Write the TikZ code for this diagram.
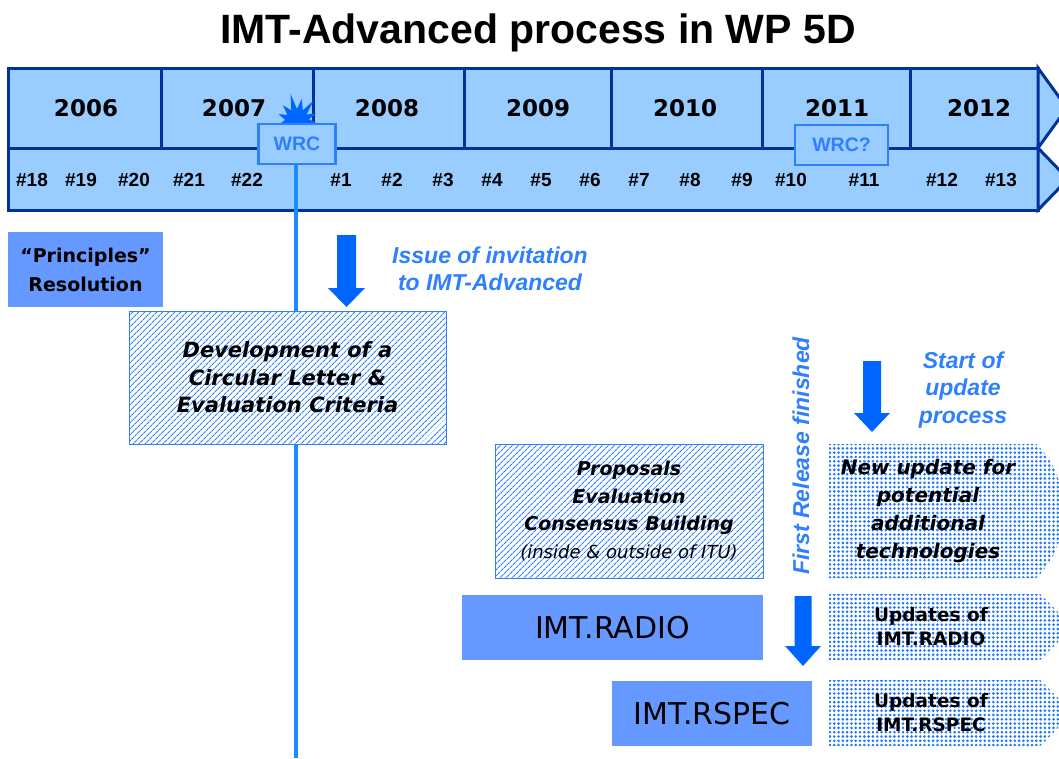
\documentclass[tikz,border=0pt]{standalone}
\usepackage{fontspec}
\setmainfont{Liberation Sans}
\newfontfamily\comic{DejaVu Sans}
\usetikzlibrary{patterns.meta}

\definecolor{navy}{HTML}{003399}
\definecolor{pale}{HTML}{99CCFF}
\definecolor{midblue}{HTML}{6699FF}
\definecolor{vivid}{HTML}{0066FF}
\definecolor{sky}{HTML}{2F80FF}
\definecolor{dotblue}{HTML}{1F77FF}
\definecolor{wrcline}{HTML}{1A8CFF}

\newcommand\sz[2]{\fontsize{#1}{#2}\selectfont}
% thick downward block arrow: x, top, head start, tip, shaft half width, head half width
\newcommand\blockdown[6]{%
  \fill[vivid] (#1-#5,#2) -- (#1+#5,#2) -- (#1+#5,#3) -- (#1+#6,#3) -- (#1,#4)
    -- (#1-#6,#3) -- (#1-#5,#3) -- cycle;}

\begin{document}
\begin{tikzpicture}[x=1pt,y=-1pt,
  band/.style={fill=pale, draw=navy, line width=3pt, line join=miter},
  yearlbl/.style={font=\comic\bfseries\sz{23}{23}},
  meetlbl/.style={font=\bfseries\sz{19}{19}},
  wrcbox/.style={fill=pale, draw=sky, line width=2.5pt, inner sep=0pt,
    font=\bfseries\sz{19.5}{19.5}, text=sky},
  solidbox/.style={fill=midblue, inner sep=0pt, align=center},
  hatchbox/.style={preaction={fill=white},
    pattern={Lines[angle=45,distance=4pt,line width=1.1pt]}, pattern color=sky,
    draw=sky, line width=1pt, inner sep=0pt, align=center,
    font=\comic\bfseries\itshape\sz{21}{27.5}},
  dotshape/.style={preaction={fill=white},
    pattern={Dots[distance=4.3pt,radius=1.45pt]}, pattern color=dotblue},
  note/.style={text=sky, font=\bfseries\itshape\sz{23}{27.5}, align=center},
  plain/.style={inner sep=0pt, align=center}
]
\useasboundingbox (0,0) rectangle (1059,758);

% title
\node[font=\bfseries\sz{41}{41}] (title) at (538,33) {IMT-Advanced process in WP 5D};

% time line: years on top, meeting numbers below
\draw[band] (8,68) rectangle (1038,148);
\draw[band] (1038,68) -- (1067,108) -- (1038,148) -- cycle;
\draw[band] (8,148) rectangle (1038,210);
\draw[band] (1038,148) -- (1068,179) -- (1038,210) -- cycle;
\foreach \x in {161,313,464,611,762,910}
  \draw[navy, line width=3pt] (\x,68) -- (\x,148);

\foreach \yr/\x in {2006/86,2007/234,2008/387,2009/538,2010/685,2011/837,2012/979}
  \node[yearlbl] (y\yr) at (\x,108) {\yr};

\foreach \m/\x in {18/32,19/81,20/134,21/189,22/247,1/341,2/392,3/443,4/492,
                   5/541,6/590,7/639,8/690,9/742,10/791,11/864,12/942,13/1001}
  \node[meetlbl] (m\m) at (\x,180) {\#\m};

% world radio conferences: burst behind the first WRC box
\fill[vivid, shift={(297,122)}, yscale=-1]
  (0:19) -- (12:12) -- (25:21) -- (38:12) -- (52:27) -- (64:13) -- (78:24)
  -- (90:13) -- (103:29) -- (116:13) -- (130:22) -- (143:12) -- (157:20)
  -- (170:12) -- (185:17) -- (200:11) -- (260:11) -- (340:11) -- cycle;
\node[wrcbox, minimum width=77pt, minimum height=40pt] (wrc) at (297,144) {WRC};
\node[wrcbox, minimum width=93pt, minimum height=40pt] (wrc2) at (841.5,145) {WRC?};
\coordinate (wrcfoot) at (296,758);
\draw[wrcline, line width=3.5pt] (wrc.south -| wrcfoot) -- (wrcfoot);

% first phase
\node[solidbox, minimum width=155pt, minimum height=75pt,
  font=\comic\bfseries\sz{19}{29}] (princ) at (85.5,269.5) {“Principles”\\Resolution};
\blockdown{346.5}{235}{288}{307}{9.5}{18.5}
\node[note] (issue) at (490,269) {Issue of invitation\\to IMT-Advanced};
\node[hatchbox, minimum width=317pt, minimum height=133pt] (dev) at (287.5,377.5)
  {Development of a\\Circular Letter \&\\Evaluation Criteria};

% evaluation phase
\node[hatchbox, minimum width=268pt, minimum height=134pt,
  font=\comic\bfseries\itshape\sz{19}{27.5}] (prop) at (629,511)
  {Proposals\\Evaluation\\Consensus Building\\{\mdseries\sz{18}{27.5}(inside \& outside of ITU)}};
\node[note, rotate=90] (first) at (801,456) {First Release finished};

% update phase
\blockdown{872}{361}{413}{432}{9}{18}
\node[note] (start) at (963,390) {Start of\\update\\process};
\path[dotshape] (829,444) -- (1036,444) .. controls (1056,462) and (1064,490) .. (1066,511)
  .. controls (1064,532) and (1056,560) .. (1036,578) -- (829,578) -- cycle;
\node[plain, font=\comic\bfseries\itshape\sz{20}{28}] (newupd) at (928,511)
  {New update for\\potential\\additional\\technologies};

% recommendations and their updates
\node[solidbox, minimum width=301pt, minimum height=65pt, font=\comic\sz{30}{30}]
  (radio) at (612.5,627.5) {IMT.RADIO};
\node[solidbox, minimum width=200pt, minimum height=65pt, font=\comic\sz{30}{30}]
  (rspec) at (712,713.5) {IMT.RSPEC};
\blockdown{803}{596}{646}{666}{8.5}{18}

\path[dotshape] (829,594) -- (1040,594) -- (1073,627) -- (1040,660) -- (829,660) -- cycle;
\node[plain, font=\comic\bfseries\sz{18.5}{24}] (updradio) at (931,627) {Updates of\\IMT.RADIO};
\path[dotshape] (829,680) -- (1040,680) -- (1073,713) -- (1040,746) -- (829,746) -- cycle;
\node[plain, font=\comic\bfseries\sz{18.5}{24}] (updrspec) at (931,713) {Updates of\\IMT.RSPEC};
\end{tikzpicture}
\end{document}
